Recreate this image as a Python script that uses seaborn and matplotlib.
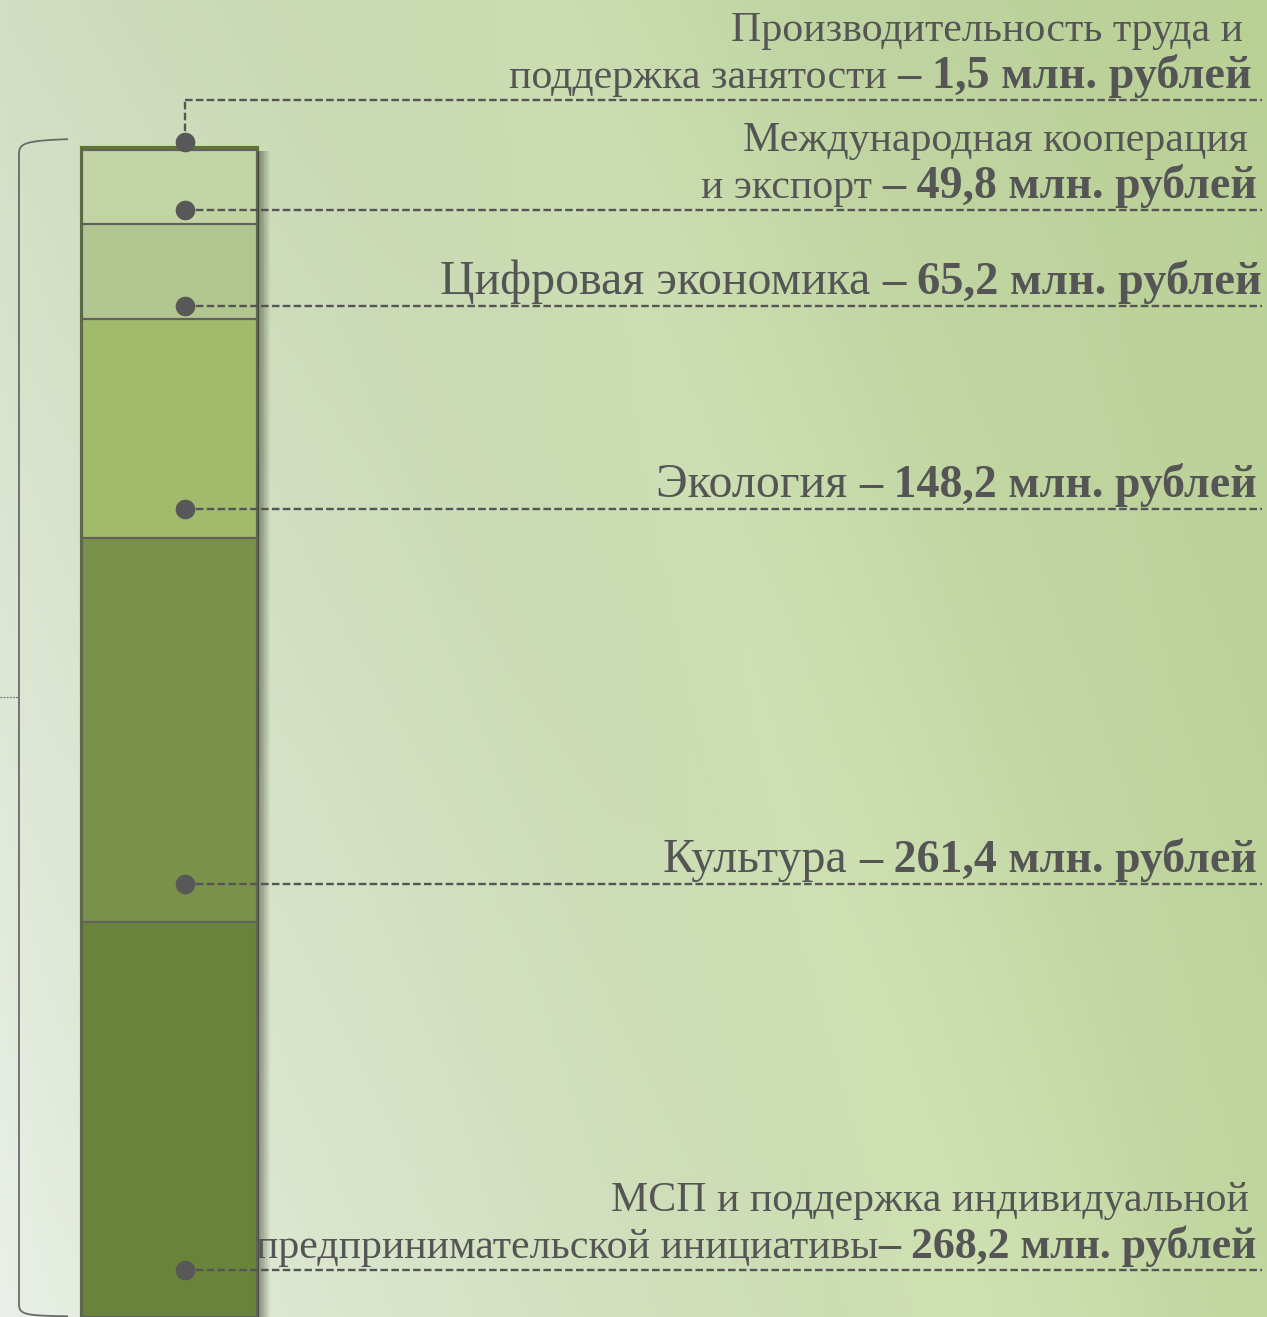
import numpy as np
import pandas as pd
import matplotlib
matplotlib.use("Agg")
import matplotlib.pyplot as plt
import seaborn as sns
import matplotlib.transforms as mtransforms
from matplotlib.path import Path
from matplotlib.patches import PathPatch
from matplotlib import patheffects as pe
from matplotlib.colors import to_rgb

# ---------------- data ----------------
categories = [
    "МСП и поддержка индивидуальной предпринимательской инициативы",
    "Культура",
    "Экология",
    "Цифровая экономика",
    "Международная кооперация и экспорт",
    "Производительность труда и поддержка занятости",
]
values = [268.2, 261.4, 148.2, 65.2, 49.8, 1.5]          # млн. рублей, bottom -> top
value_text = ["268,2", "261,4", "148,2", "65,2", "49,8", "1,5"]
label_line1 = ["МСП и поддержка индивидуальной", "", "", "", "Международная кооперация",
               "Производительность труда и"]
label_line2 = ["предпринимательской инициативы", "Культура ", "Экология ", "Цифровая экономика ",
               "и экспорт ", "поддержка занятости "]
seg_colors = ["#6a833a", "#7a9149", "#a1ba6c", "#b1c78f", "#c2d4a3", "#5d782a"]

# ---------------- layout (not data) ----------------
leader_y = [31.9, 294.2, 549.0, 687.0, 752.2, 826.9]   # y of dashed leader lines
dot_y = [31.9, 294.2, 549.0, 687.0, 752.2, 798.4]
text_right_bold = [0.992, 0.992, 0.992, 0.996, 0.992, 0.988]
text_right_l1 = [0.986, None, None, None, 0.985, 0.981]
fs_regular = [30.2, 34.5, 34.5, 34.5, 30.2, 30.2]
fs_bold = [31.5, 33.0, 33.0, 33.5, 33.0, 33.3]
TXT = "#555555"

W, H = 1267, 1317
fig = plt.figure(figsize=(W / 100, H / 100), dpi=100)

# background gradient
bg = fig.add_axes([0, 0, 1, 1], zorder=0)
yy, xx = np.mgrid[0:1:300j, 0:1:300j]
tl, tr = np.array(to_rgb("#d2dec3")), np.array(to_rgb("#b9d095"))
bl, br = np.array(to_rgb("#eaf0e9")), np.array(to_rgb("#c1d59e"))
fx = xx ** 0.75
img = ((1 - yy)[..., None] * ((1 - fx)[..., None] * tl + fx[..., None] * tr)
       + yy[..., None] * ((1 - fx)[..., None] * bl + fx[..., None] * br))
band = np.exp(-((xx - 0.45 - 0.35 * yy) / 0.12) ** 2) * 0.025
img = np.clip(img + band[..., None], 0, 1)
bg.imshow(img, extent=[0, 1, 0, 1], aspect="auto", origin="upper")
bg.set_axis_off()

ax = fig.add_axes([0, 0, 1, 1], zorder=1)
ax.set_facecolor("none")

# stacked bar drawn with seaborn: cumulative totals, tallest first
cum = np.cumsum(values)
df = pd.DataFrame({"pos": ["total"] * len(values), "top": cum, "color": seg_colors})
for i in range(len(values) - 1, -1, -1):
    is_top = i == len(values) - 1
    sns.barplot(data=df.iloc[[i]], x="pos", y="top", color=seg_colors[i], saturation=1,
                width=0.8, edgecolor=seg_colors[i] if is_top else "#616161",
                linewidth=3.0 if is_top else 1.6, ax=ax, zorder=2 + (len(values) - i))
# soft shadow on the outermost bar
shadow = [pe.SimplePatchShadow(offset=(k, -0.5), shadow_rgbFace="black", alpha=0.05)
          for k in range(1, 10)] + [pe.Normal()]
ax.patches[1].set_path_effects(shadow)

px = 218.75
x_left = -0.4 - 82 / px
ax.set_xlim(x_left, x_left + W / px)
k = (H - 148) / cum[-1]
ax.set_ylim(0, H / k)
ax.set_axis_off()

dot_x = 0.07
trans_ax_data = mtransforms.blended_transform_factory(ax.transAxes, ax.transData)
dash_kw = dict(color="#555555", lw=1.7, dashes=(3.2, 1.4), zorder=20)

x0 = (dot_x - x_left) * px / W
for i in range(len(values)):
    if i == len(values) - 1:
        ax.plot([dot_x, dot_x], [dot_y[i], leader_y[i]], solid_capstyle="butt", **dash_kw)
    ax.plot([x0, 0.996], [leader_y[i], leader_y[i]], transform=trans_ax_data, **dash_kw)
ax.scatter([dot_x] * len(values), dot_y, s=200, color="#585858", zorder=25, linewidths=0)

# labels
fig.canvas.draw()
renderer = fig.canvas.get_renderer()
fam = ["Liberation Serif", "DejaVu Serif"]
trans_fig_data = mtransforms.blended_transform_factory(fig.transFigure, ax.transData)
for i in range(len(values)):
    base = leader_y[i] + 8.0
    bold = "– " + value_text[i] + " млн. рублей"
    tb = ax.text(text_right_bold[i], base, bold, transform=trans_ax_data, ha="right",
                 va="baseline", fontsize=fs_bold[i], fontweight="bold", color=TXT,
                 family=fam, zorder=30)
    bb = tb.get_window_extent(renderer=renderer)
    ax.text(bb.x0 / W, base, label_line2[i], transform=trans_fig_data, ha="right",
            va="baseline", fontsize=fs_regular[i], color=TXT, family=fam, zorder=30)
    if label_line1[i]:
        ax.text(text_right_l1[i], base + 32.0, label_line1[i], transform=trans_ax_data,
                ha="right", va="baseline", fontsize=fs_regular[i], color=TXT, family=fam,
                zorder=30)

# bracket on the left
top_y = cum[-1] + 4.0
bot_y = 0.8
bx, cx = 19 / W, 68 / W
r = 8.0
verts = [(cx, top_y + 2.0), (bx + 0.004, top_y + 1.0), (bx, top_y - 1.0), (bx, top_y - r),
         (bx, bot_y + r), (bx, bot_y + 1.0), (bx + 0.004, bot_y), (cx, bot_y - 0.3)]
codes = [Path.MOVETO, Path.CURVE4, Path.CURVE4, Path.CURVE4,
         Path.LINETO, Path.CURVE4, Path.CURVE4, Path.CURVE4]
ax.add_patch(PathPatch(Path(verts, codes), transform=trans_ax_data, fill=False,
                       edgecolor="#6a6a6a", lw=1.3, zorder=15))
ax.plot([0, bx], [cum[-1] * 0.53, cum[-1] * 0.53], transform=trans_ax_data,
        color="#777777", lw=0.9, dashes=(1.5, 1.0), zorder=15)

fig.savefig("out.png", dpi=100)
